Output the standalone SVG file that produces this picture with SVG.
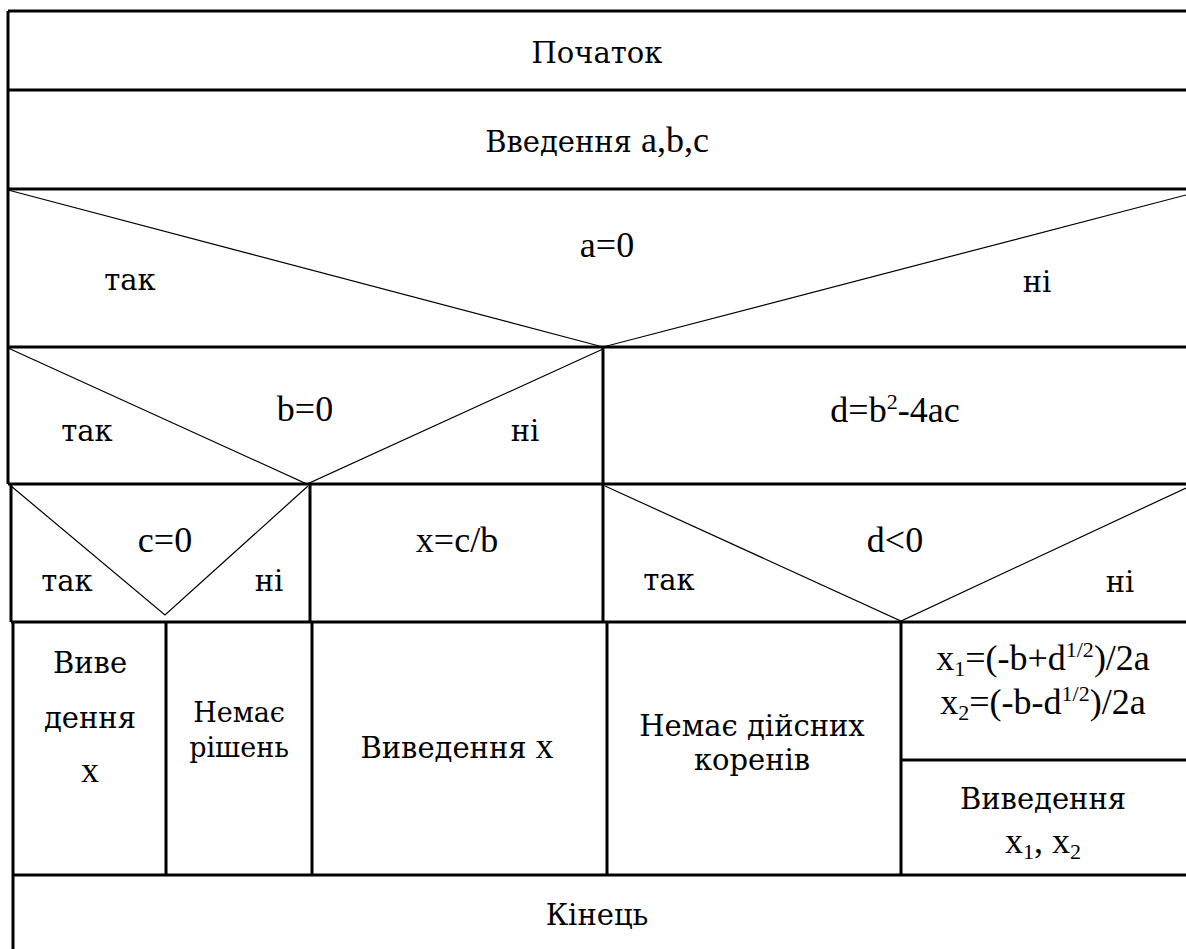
<svg xmlns="http://www.w3.org/2000/svg" width="1186" height="949" viewBox="0 0 1186 949">
<style>
.b{stroke:#000;stroke-width:3;fill:none}
.d{stroke:#000;stroke-width:1.2;fill:none}
text{font-family:"Liberation Serif","Times New Roman",serif;font-size:36px;fill:#000;text-anchor:middle}
.c{font-family:"DejaVu Serif","Liberation Serif",serif;font-size:29px}
.n{font-family:"DejaVu Serif","Liberation Serif",serif;font-size:27px}
.s{font-size:22px}
</style>
<rect width="1186" height="949" fill="#fff"/>
<g id="frame">
<path class="b" d="M8,11 H1190 M8,11 V484 M8,90 H1190 M8,189 H1190 M8,347 H1190 M8,484 H1190 M11,484 V622 M11,622 H1190 M13,622 V949 M13,875 H1190"/>
<path class="b" d="M603,347 V622 M310,484 V622 M166,622 V875 M312,622 V875 M607,622 V875 M901,622 V875 M901,760 H1190"/>
</g>
<g id="connectors">
<path class="d" d="M8,190 L603,347 L1186,195"/>
<path class="d" d="M8,348 L307,484 L603,349"/>
<path class="d" d="M11,486 L165,615 L308,486"/>
<path class="d" d="M605,486 L901,621 L1186,488"/>
</g>
<g id="n-start"><text class="c" x="597" y="63">Початок</text></g>
<g id="n-input"><text x="597" y="152"><tspan class="c">Введення</tspan> a,b,c</text></g>
<g id="n-a0"><text x="607" y="257">a=0</text><text class="c" x="130" y="290">так</text><text class="c" x="1037" y="292">ні</text></g>
<g id="n-b0"><text x="305" y="421">b=0</text><text class="c" x="87" y="441">так</text><text class="c" x="525" y="441">ні</text></g>
<g id="n-d"><text x="895" y="422">d=b<tspan class="s" dy="-13">2</tspan><tspan dy="13">-4ac</tspan></text></g>
<g id="n-c0"><text x="165" y="552">c=0</text><text class="c" x="67" y="591">так</text><text class="c" x="269" y="591">ні</text></g>
<g id="n-xcb"><text x="457" y="552">x=c/b</text></g>
<g id="n-dlt0"><text x="895" y="552">d&lt;0</text><text class="c" x="669" y="590">так</text><text class="c" x="1120" y="592">ні</text></g>
<g id="n-outx1"><text class="c" x="90" y="673">Виве</text><text class="c" x="90" y="728">дення</text><text x="90" y="782">x</text></g>
<g id="n-nosol"><text class="n" x="239" y="722">Немає</text><text class="n" x="239" y="757">рішень</text></g>
<g id="n-outx2"><text x="457" y="758"><tspan class="c">Виведення</tspan> x</text></g>
<g id="n-noroots"><text class="c" x="752" y="736">Немає дійсних</text><text class="c" x="752" y="770">коренів</text></g>
<g id="n-roots"><text x="1043" y="670">x<tspan class="s" dy="6">1</tspan><tspan dy="-6">=(-b+d</tspan><tspan class="s" dy="-13">1/2</tspan><tspan dy="13">)/2a</tspan></text><text x="1043" y="714">x<tspan class="s" dy="6">2</tspan><tspan dy="-6">=(-b-d</tspan><tspan class="s" dy="-13">1/2</tspan><tspan dy="13">)/2a</tspan></text></g>
<g id="n-outroots"><text class="c" x="1043" y="809">Виведення</text><text x="1043" y="853">x<tspan class="s" dy="6">1</tspan><tspan dy="-6">, x</tspan><tspan class="s" dy="6">2</tspan></text></g>
<g id="n-end"><text class="c" x="597" y="925">Кінець</text></g>
</svg>
